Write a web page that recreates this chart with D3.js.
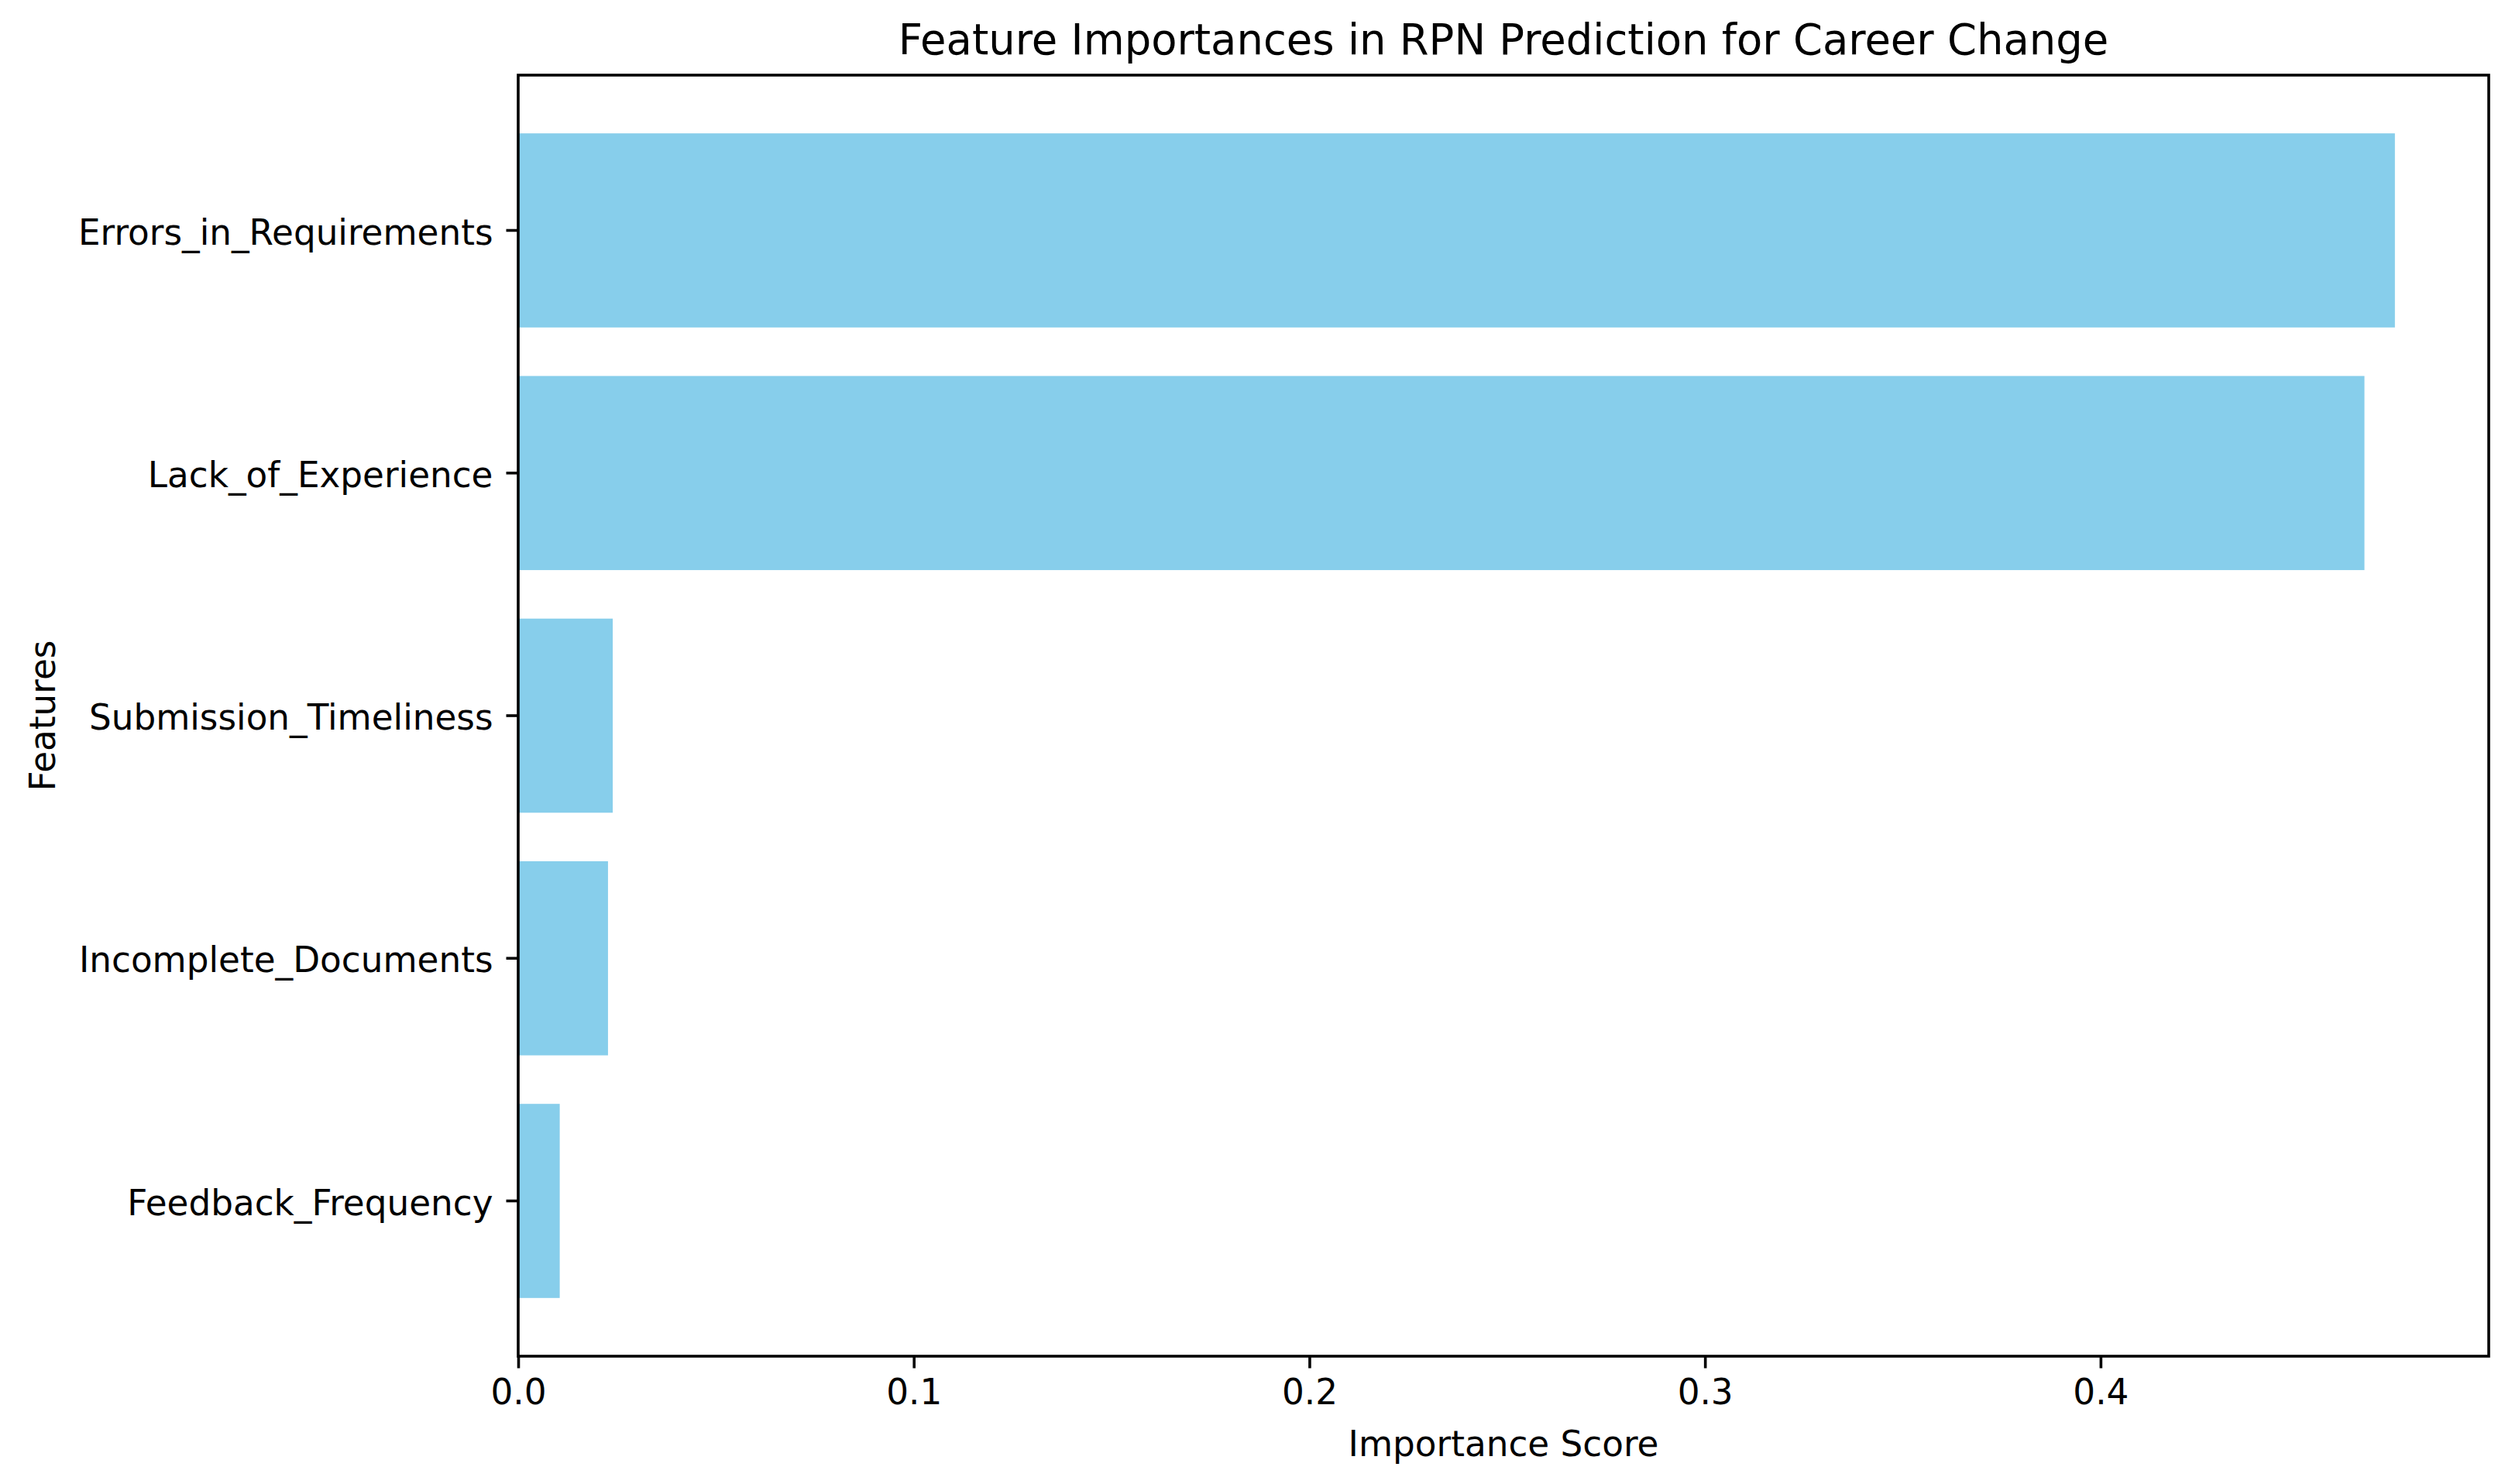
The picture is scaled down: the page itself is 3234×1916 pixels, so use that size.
<!DOCTYPE html>
<html>
<head>
<meta charset="utf-8">
<script src="https://cdn.jsdelivr.net/npm/d3@7"></script>
<style>
  body { margin: 0; background: #fff; }
  text { font-family: "DejaVu Sans", sans-serif; fill: #000; }
</style>
</head>
<body>
<script>
const WIDTH = 3234;
const HEIGHT = 1916;
const MARGIN = {left: 669, top: 97, right: 21, bottom: 165};

// top to bottom, as drawn
var features = ['Errors_in_Requirements', 'Lack_of_Experience', 'Submission_Timeliness',
                'Incomplete_Documents', 'Feedback_Frequency'];
var importances = [0.4744, 0.4667, 0.0239, 0.0227, 0.0105];
var xTicks = [0.0, 0.1, 0.2, 0.3, 0.4];

var title = 'Feature Importances in RPN Prediction for Career Change';
var xLabel = 'Importance Score';
var yLabel = 'Features';

var rows = features.map(function(f, i) { return {name: f, value: importances[i]}; });

var w = WIDTH - MARGIN.left - MARGIN.right;
var h = HEIGHT - MARGIN.top - MARGIN.bottom;
var lw = 3.6;

var svg = d3.select('body').append('svg')
    .attr('width', WIDTH)
    .attr('height', HEIGHT);

var g = svg.append('g')
    .attr('transform', 'translate(' + MARGIN.left + ',' + MARGIN.top + ')');

var xScale = d3.scaleLinear()
    .domain([0, d3.max(importances) * 1.05])
    .range([0, w]);

var yScale = d3.scaleBand()
    .domain(features)
    .range([0, h])
    .paddingInner(0.2)
    .paddingOuter(0.24);

g.selectAll('rect.bar')
    .data(rows)
    .enter()
    .append('rect')
    .attr('class', 'bar')
    .attr('x', xScale(0))
    .attr('y', function(d) { return yScale(d.name); })
    .attr('width', function(d) { return xScale(d.value) - xScale(0); })
    .attr('height', yScale.bandwidth())
    .attr('fill', '#87ceeb');

var xAxis = g.append('g')
    .attr('transform', 'translate(0,' + h + ')')
    .call(d3.axisBottom(xScale).tickValues(xTicks).tickFormat(d3.format('.1f'))
        .tickSize(15.5).tickSizeOuter(0).tickPadding(14));

var yAxis = g.append('g')
    .call(d3.axisLeft(yScale).tickSize(15.5).tickSizeOuter(0).tickPadding(17));

[xAxis, yAxis].forEach(function(ax) {
    ax.select('.domain').remove();
    ax.selectAll('.tick line').attr('stroke', '#000').attr('stroke-width', lw);
    ax.selectAll('.tick text')
        .style('font-family', '"DejaVu Sans", sans-serif')
        .style('font-size', '45.3px')
        .attr('fill', '#000');
});
yAxis.selectAll('.tick text').attr('dy', '0.4em');

// spines
g.append('rect')
    .attr('x', 0)
    .attr('y', 0)
    .attr('width', w)
    .attr('height', h)
    .attr('fill', 'none')
    .attr('stroke', '#000')
    .attr('stroke-width', lw);

svg.append('text')
    .attr('x', MARGIN.left + w / 2)
    .attr('y', 70)
    .attr('text-anchor', 'middle')
    .style('font-size', '54.4px')
    .text(title);

svg.append('text')
    .attr('x', MARGIN.left + w / 2)
    .attr('y', 1880)
    .attr('text-anchor', 'middle')
    .style('font-size', '45.3px')
    .text(xLabel);

svg.append('text')
    .attr('transform', 'translate(71,' + (MARGIN.top + h / 2) + ') rotate(-90)')
    .attr('text-anchor', 'middle')
    .style('font-size', '45.3px')
    .text(yLabel);
</script>
</body>
</html>
